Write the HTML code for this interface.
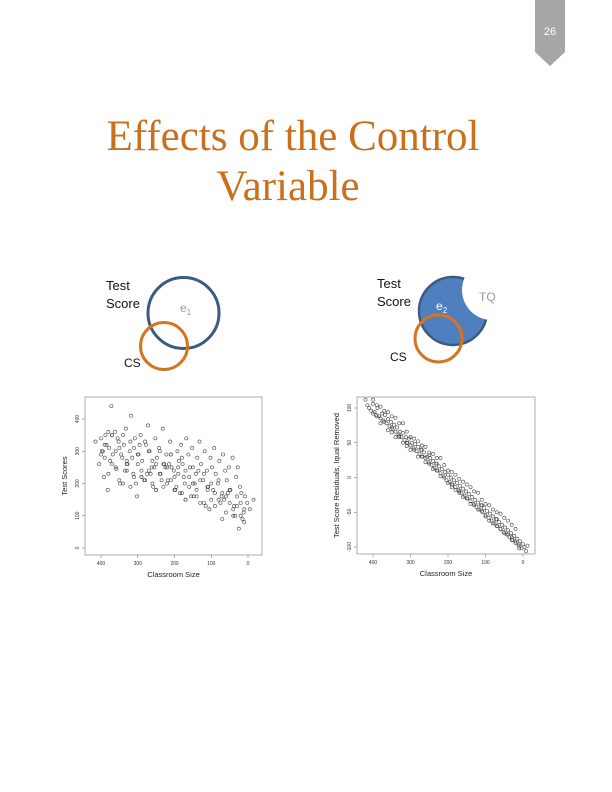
<!DOCTYPE html>
<html><head><meta charset="utf-8"><style>
body{margin:0;background:#fff;}
#page{position:relative;width:612px;height:792px;overflow:hidden;background:#fff;font-family:"Liberation Sans",sans-serif;}
</style></head><body>
<div id="page">
<svg width="612" height="792" style="position:absolute;left:0;top:0">
  <polygon points="535,0 565,0 565,52 550,66 535,52" fill="#a6a6a6"/>
  <text x="550" y="35" font-size="11" fill="#fff" text-anchor="middle" font-family="Liberation Sans">26</text>
  <text x="293" y="150" font-size="43" fill="#c8701e" text-anchor="middle" font-family="Liberation Serif">Effects of the Control</text>
  <text x="288" y="200" font-size="43" fill="#c8701e" text-anchor="middle" font-family="Liberation Serif">Variable</text>
  <circle cx="183.5" cy="313" r="35.5" fill="none" stroke="#3e5a80" stroke-width="3"/>
  <circle cx="164" cy="346" r="23.5" fill="none" stroke="#d4751f" stroke-width="3"/>
  <text x="106" y="290" font-size="13" fill="#111">Test</text>
  <text x="106" y="308" font-size="13" fill="#111">Score</text>
  <text x="180" y="312" font-size="12" fill="#999">e<tspan font-size="8" dy="3">1</tspan></text>
  <text x="124" y="367" font-size="12" fill="#111">CS</text>
  <defs><mask id="cut"><rect x="0" y="0" width="612" height="792" fill="#fff"/><circle cx="492" cy="290" r="30" fill="#000"/></mask></defs>
  <circle cx="453" cy="311" r="34" fill="#4f7fbf" stroke="#3e5a80" stroke-width="2.5" mask="url(#cut)"/>
  <circle cx="438.5" cy="338.5" r="23.5" fill="none" stroke="#d4751f" stroke-width="3"/>
  <text x="377" y="288" font-size="13" fill="#111">Test</text>
  <text x="377" y="306" font-size="13" fill="#111">Score</text>
  <text x="436" y="310" font-size="12" fill="#fff">e<tspan font-size="8" dy="3">2</tspan></text>
  <text x="479" y="301" font-size="12" fill="#999">TQ</text>
  <text x="390" y="361" font-size="12" fill="#111">CS</text>
  <g id="chart1"></g>
  <g id="chart2"></g>
</svg>
</div>
<script>
const NS="http://www.w3.org/2000/svg";
const xTicks=[400,300,200,100,0];
const yTicksL=[0,100,200,300,400];
const yTicksR=[-100,-50,0,50,100];
const sizeL=[415,405,398,392,388,382,378,372,368,362,
358,352,348,342,338,332,328,322,318,312,
308,302,298,292,288,282,278,272,268,262,
258,252,248,242,238,232,228,222,218,212,
208,202,198,192,188,182,178,172,168,162,
158,152,148,142,138,132,128,122,118,112,
108,102,98,92,88,82,78,72,68,62,
58,52,48,42,38,32,28,22,18,12,
8,2,-5,-15,395,375,355,335,315,295,
275,255,235,215,195,175,155,135,115,95,
75,55,35,15,385,345,305,265,225,185,
145,105,65,25,370,330,290,250,210,170,
400,390,380,370,360,350,340,330,320,310,
300,290,280,270,260,250,240,230,220,210,
200,190,180,170,160,150,140,130,120,110,
100,90,80,70,60,50,40,30,20,10,
400,390,380,370,360,350,340,330,320,310,
300,290,280,270,260,250,240,230,220,210,
200,190,180,170,160,150,140,130,120,110,
100,90,80,70,60,50,40,30,20,10];
const scoreL=[330,260,300,220,350,180,310,440,290,360,
245,330,200,280,320,370,260,300,410,230,
340,160,290,350,270,210,320,380,300,250,
190,340,280,310,230,370,260,290,210,330,
250,240,180,300,270,320,260,200,340,290,
250,310,160,230,280,330,260,210,300,240,
190,280,250,310,230,200,270,160,290,240,
210,250,180,280,130,220,250,190,170,110,
160,140,120,150,300,270,340,240,280,320,
230,250,210,260,190,220,160,240,130,180,
140,170,100,90,320,290,200,230,250,170,
200,120,150,60,350,260,220,180,290,150,
340,280,230,350,250,310,200,270,330,220,
290,240,210,300,270,180,230,260,200,290,
220,250,170,240,190,200,160,210,140,180,
200,130,150,170,110,140,120,160,100,80,
290,320,360,260,300,210,350,240,190,310,
260,220,330,240,200,260,300,190,250,210,
180,230,280,150,220,250,180,140,230,190,
150,170,210,90,160,180,100,130,140,120];
const sizeR=[420,415,410,405,400,396,392,388,384,380,
376,372,368,364,360,356,352,348,344,340,
336,332,328,324,320,316,312,308,304,300,
296,292,288,284,280,276,272,268,264,260,
256,252,248,244,240,236,232,228,224,220,
216,212,208,204,200,196,192,188,184,180,
176,172,168,164,160,156,152,148,144,140,
136,132,128,124,120,116,112,108,104,100,
96,92,88,84,80,76,72,68,64,60,
56,52,48,44,40,36,32,28,24,20,
16,12,8,4,0,-4,-8,-12,350,310,
270,230,190,150,110,70,30,330,250,170,
400,390,380,370,360,350,340,330,320,310,
300,290,280,270,260,250,240,230,220,210,
200,190,180,170,160,150,140,130,120,110,
100,90,80,70,60,50,40,30,20,10,
400,390,380,370,360,350,340,330,320,310,
300,290,280,270,260,250,240,230,220,210,
200,190,180,170,160,150,140,130,120,110,
100,90,80,70,60,50,40,30,20,10];
const resR=[112,104,100,96,106,94,90,100,88,85,
92,82,90,78,84,74,80,70,76,66,
72,62,66,58,64,54,58,50,56,46,
50,42,48,38,44,34,40,30,36,28,
30,22,28,18,24,14,20,10,16,6,
12,2,8,-4,4,-6,0,-10,-4,-14,
-8,-18,-12,-22,-16,-26,-20,-30,-24,-34,
-28,-38,-32,-42,-36,-46,-40,-50,-44,-54,
-48,-58,-52,-62,-56,-66,-60,-70,-64,-74,
-68,-78,-72,-82,-76,-86,-80,-90,-84,-94,
-88,-98,-92,-102,-96,-100,-106,-98,65,45,
40,20,-10,-30,-40,-60,-90,58,32,-20,
112,88,102,80,94,72,86,60,78,50,
58,40,52,30,44,20,34,10,28,0,
10,-14,4,-22,-6,-30,-14,-40,-22,-48,
-38,-62,-46,-70,-52,-80,-62,-86,-74,-96,
92,104,78,96,68,88,58,78,50,66,
40,56,30,46,22,36,12,28,2,18,
-8,8,-18,-2,-28,-10,-38,-20,-46,-32,
-56,-40,-66,-50,-74,-58,-82,-68,-92,-102];
function el(tag,attrs,parent,txt){const e=document.createElementNS(NS,tag);for(const k in attrs)e.setAttribute(k,attrs[k]);if(txt!==undefined)e.textContent=txt;parent.appendChild(e);return e;}
function drawChart(g,o){
  const sx=v=>o.x0+(v-o.xv0)*(o.x1-o.x0)/(o.xv1-o.xv0);
  const sy=v=>o.y0+(v-o.yv0)*(o.y1-o.y0)/(o.yv1-o.yv0);
  const fr=el('rect',{x:o.fx,y:o.fy,width:o.fw,height:o.fh,fill:'none',stroke:'#777','stroke-width':0.6},g);
  
  
  xTicks.forEach(v=>{
    const t=el('text',{x:sx(v),y:o.fy+o.fh+10,'font-size':5,'text-anchor':'middle',fill:'#333'},g,String(v));
    
    
    el('line',{x1:sx(v),x2:sx(v),y1:o.fy+o.fh,y2:o.fy+o.fh+3,stroke:'#666','stroke-width':0.5},g);
  });
  o.yt.forEach(v=>{
    const t=el('text',{x:o.fx-6,y:sy(v),'font-size':5,'text-anchor':'middle',fill:'#333',transform:`rotate(-90 ${o.fx-6} ${sy(v)})`},g,String(v));
    
    
    el('line',{x1:o.fx-3,x2:o.fx,y1:sy(v),y2:sy(v),stroke:'#666','stroke-width':0.5},g);
  });
  const xt=el('text',{x:(o.fx+o.fw/2),y:o.fy+o.fh+22,'font-size':7.5,'text-anchor':'middle',fill:'#222'},g,'Classroom Size');
  
  
  const yx=o.fx-18, yy=o.fy+o.fh/2;
  const yt=el('text',{x:yx,y:yy,'font-size':7.5,'text-anchor':'middle',fill:'#222',transform:`rotate(-90 ${yx} ${yy})`},g,o.ytitle);
  
  
  const n=Math.min(o.xs.length,o.ys.length);
  for(let i=0;i<n;i++){
    const c=el('circle',{cx:sx(o.xs[i]),cy:sy(o.ys[i]),r:1.6,fill:'none',stroke:'#444','stroke-width':0.6},g);
    
    
  }
}
drawChart(document.getElementById('chart1'),{fx:85,fy:397,fw:177,fh:158,x0:101,xv0:400,x1:248,xv1:0,y0:548,yv0:0,y1:419,yv1:400,yt:yTicksL,ytitle:'Test Scores',xs:sizeL,ys:scoreL});
drawChart(document.getElementById('chart2'),{fx:357,fy:397,fw:178,fh:157,x0:373,xv0:400,x1:523,xv1:0,y0:547,yv0:-100,y1:408,yv1:100,yt:yTicksR,ytitle:'Test Score Residuals, Iqual Removed',xs:sizeR,ys:resR});
</script>
</body></html>
